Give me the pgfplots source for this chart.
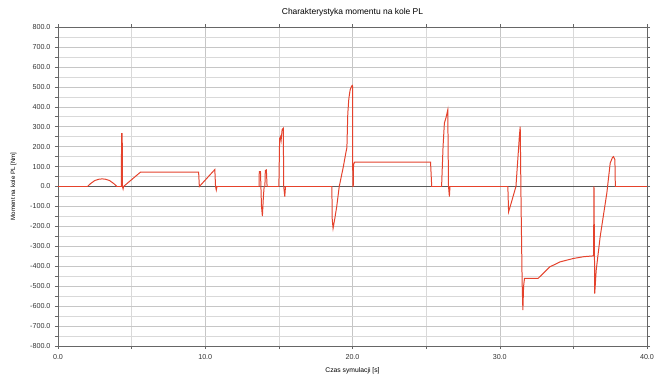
\documentclass[border=0pt]{standalone}
\usepackage{fontspec}
\setmainfont{Liberation Sans}
\usepackage{pgfplots}
\pgfplotsset{compat=1.18}
\definecolor{curve}{RGB}{228,66,44}
\definecolor{zeroline}{RGB}{90,90,90}
\begin{document}
\begin{tikzpicture}
\useasboundingbox (-58bp,-28bp) rectangle (596bp,346bp);
\begin{axis}[
  at={(0,0)}, anchor=south west,
  scale only axis, width=589bp, height=319bp,
  xmin=0, xmax=40, ymin=-800, ymax=800,
  xtick={0,10,20,30,40}, minor xtick={5,15,25,35},
  ytick={-800,-700,...,800}, minor ytick={-750,-650,...,750},
  xmajorgrids, ymajorgrids, xminorgrids, yminorgrids,
  major grid style={gray!45, line width=0.5pt},
  minor grid style={gray!30, line width=0.5pt},
  axis line style={gray!80!black, line width=0.6pt},
  tick style={gray!80!black, line width=0.5pt},
  tick align=outside,
  major tick length=3bp, minor tick length=3bp,
  xticklabel style={font=\fontsize{7.2}{8}\selectfont, text=black!80, yshift=-2bp},
  yticklabel style={font=\fontsize{7.2}{8}\selectfont, text=black!80, xshift=-1bp},
  /pgf/number format/assume math mode=true,
  /pgf/number format/.cd, fixed, fixed zerofill, precision=1, 1000 sep={},
  /pgfplots/.cd,
  title={Charakterystyka momentu na kole PL},
  title style={font=\fontsize{8.5}{9}\selectfont, at={(0.5,1)}, anchor=south, yshift=1bp},
  xlabel={Czas symulacji [s]},
  xlabel style={font=\fontsize{6.8}{8}\selectfont, yshift=-1bp},
  ylabel={Moment na kole PL [Nm]},
  ylabel style={font=\fontsize{6.2}{7}\selectfont, yshift=7bp},
  clip=true,
]
\addplot[zeroline, line width=0.7pt] coordinates {(0,0)(40,0)};
\addplot[curve, line width=1pt] coordinates {
(0,0)(2.0,0)(2.2,14)(2.5,30)(2.8,37)(3.0,38)(3.2,37)(3.5,30)(3.8,14)(4.0,0)
(4.30,0)(4.32,265)(4.36,265)(4.38,0)(4.42,-12)(4.45,0)(5.6,72)(9.55,72)(9.6,0)
(10.65,85)(10.7,0)(10.75,-18)(10.8,0)
(13.65,0)(13.67,75)(13.75,75)(13.78,0)(13.82,-100)(13.88,-148)(13.95,-50)(14.0,0)
(14.05,0)(14.08,80)(14.15,83)(14.2,0)
(15.0,0)(15.05,240)(15.1,250)(15.15,230)(15.22,285)(15.3,292)(15.33,0)(15.4,-50)(15.45,0)
(18.6,0)(18.62,-160)(18.68,-210)(18.8,-160)(18.93,-100)(19.1,0)(19.38,100)(19.55,170)
(19.62,195)(19.68,365)(19.75,440)(19.84,485)(19.95,505)(20.0,507)(20.02,0)
(20.05,0)(20.07,110)(20.15,122)(25.3,122)(25.38,0)
(26.05,0)(26.15,200)(26.24,318)(26.35,345)(26.47,384)(26.52,0)(26.58,-50)(26.62,0)
(30.55,0)(30.6,-127)(30.75,-90)(30.9,-51)(31.1,0)(31.27,183)(31.33,250)(31.39,300)
(31.45,-100)(31.52,-480)(31.57,-620)(31.62,-500)(31.68,-461)(32.6,-461)(32.9,-440)
(33.4,-403)(34.1,-378)(35.0,-361)(35.7,-352)(36.37,-348)(36.40,0)(36.45,-537)
(36.55,-420)(36.82,-252)(37.05,-140)(37.27,-34)(37.5,117)(37.65,145)(37.72,150)
(37.82,135)(37.85,0)(40,0)
};
\end{axis}
\end{tikzpicture}
\end{document}
